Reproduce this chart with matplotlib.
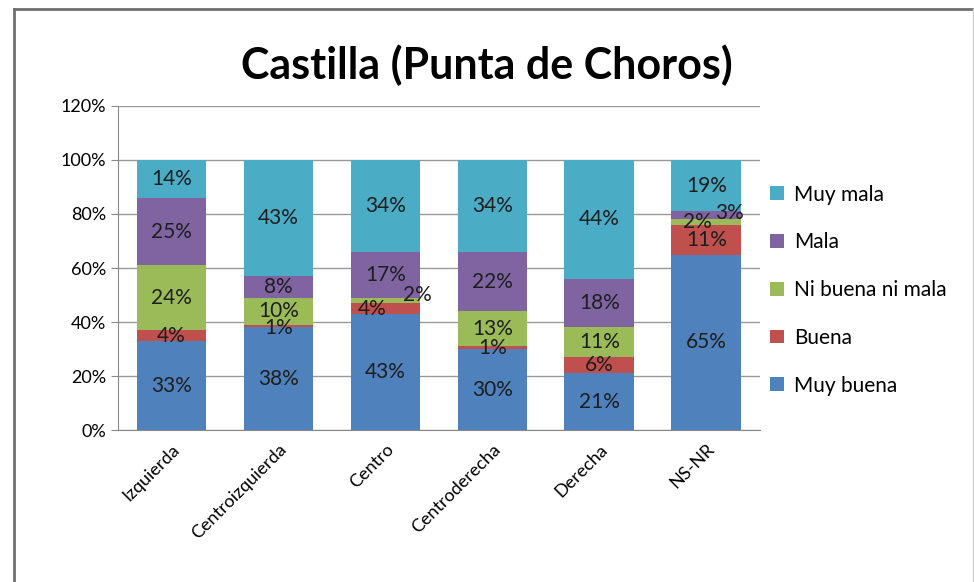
import matplotlib.pyplot as plt
import numpy as np
from matplotlib.lines import Line2D

plt.rcParams['font.family'] = ['Lato', 'DejaVu Sans']

categories = ['Izquierda', 'Centroizquierda', 'Centro', 'Centroderecha', 'Derecha', 'NS-NR']
series_names = ['Muy buena', 'Buena', 'Ni buena ni mala', 'Mala', 'Muy mala']
muy_buena = [33, 38, 43, 30, 21, 65]
buena = [4, 1, 4, 1, 6, 11]
ni_buena_ni_mala = [24, 10, 2, 13, 11, 2]
mala = [25, 8, 17, 22, 18, 3]
muy_mala = [14, 43, 34, 34, 44, 19]
colors = ['#4F81BD', '#C0504D', '#9BBB59', '#8064A2', '#4BACC6']

series = [muy_buena, buena, ni_buena_ni_mala, mala, muy_mala]

fig = plt.figure(figsize=(9.74, 5.82), dpi=100)
ax = fig.add_axes([0.121, 0.261, 0.659, 0.557])

x = np.arange(len(categories))
bottom = np.zeros(len(categories))
handles = []
for s, (vals, name, col) in enumerate(zip(series, series_names, colors)):
    vals = np.array(vals, dtype=float)
    h = ax.bar(x, vals, 0.65, bottom=bottom, color=col, label=name, zorder=2)
    handles.append(h)
    for i, v in enumerate(vals):
        cx = x[i]
        cy = bottom[i] + v / 2
        # manually shifted labels for thin segments
        if categories[i] == 'Centro' and name == 'Ni buena ni mala':
            cx += 0.3
            cy += 2
        if categories[i] == 'Centro' and name == 'Buena':
            cx -= 0.12
        if categories[i] == 'Centroizquierda' and name == 'Buena':
            cy -= 0.8
        if categories[i] == 'NS-NR' and name == 'Ni buena ni mala':
            cx -= 0.08
        if categories[i] == 'NS-NR' and name == 'Mala':
            cx += 0.22
            cy += 0.8
        ax.text(cx, cy, f'{int(v)}%', ha='center', va='center', fontsize=15,
                color='#1e1e1e', zorder=3)
    bottom += vals

ax.set_xlim(-0.5, len(categories) - 0.5)
ax.set_ylim(0, 120)
ax.set_yticks(np.arange(0, 121, 20))
ax.set_yticklabels([f'{t}%' for t in range(0, 121, 20)], fontsize=13)
ax.set_xticks(x)
ax.set_xticklabels(categories, rotation=45, ha='right', rotation_mode='anchor', fontsize=13)
ax.tick_params(axis='x', length=0, pad=8)
ax.tick_params(axis='y', length=5, color='#888888')
ax.yaxis.grid(True, color='#999999', linewidth=1, zorder=0)
ax.set_axisbelow(True)
for side in ['top', 'right']:
    ax.spines[side].set_visible(False)
for side in ['left', 'bottom']:
    ax.spines[side].set_color('#888888')

leg = fig.legend(handles[::-1], series_names[::-1], loc='upper left',
                 bbox_to_anchor=(0.782, 0.697), frameon=False, fontsize=15,
                 handlelength=0.65, handleheight=0.65, handletextpad=0.5,
                 labelspacing=1.33, borderaxespad=0)

fig.text(0.5, 0.888, 'Castilla (Punta de Choros)', ha='center', va='center',
         fontsize=31, fontweight='bold')

# outer chart frame
fig.add_artist(Line2D([0.014, 0.014], [0.0, 0.985], transform=fig.transFigure,
                      color='#707070', linewidth=2))
fig.add_artist(Line2D([0.014, 1.0], [0.985, 0.985], transform=fig.transFigure,
                      color='#707070', linewidth=2))
fig.add_artist(Line2D([0.999, 0.999], [0.0, 0.985], transform=fig.transFigure,
                      color='#d0d0d0', linewidth=1))

fig.savefig('out.png', dpi=100)
